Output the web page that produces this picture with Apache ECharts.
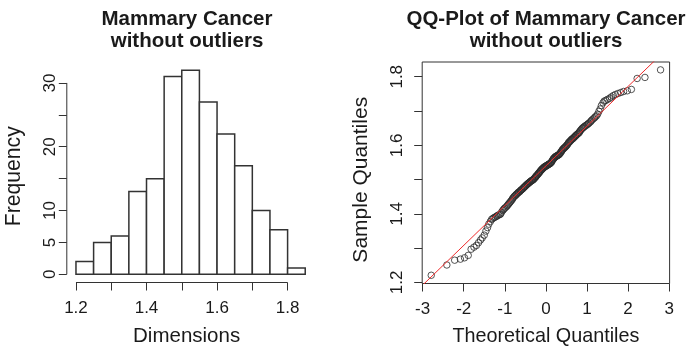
<!DOCTYPE html>
<html><head><meta charset="utf-8">
<script src="https://cdn.jsdelivr.net/npm/echarts@6/dist/echarts.min.js"></script>
<style>html,body{margin:0;padding:0;background:#fff}#c{width:688px;height:352px}</style>
</head><body><div id="c"></div>
<script>
// ---------- Histogram data ----------
const binEdges = [1.20, 1.25, 1.30, 1.35, 1.40, 1.45, 1.50, 1.55, 1.60, 1.65, 1.70, 1.75, 1.80, 1.85];
const histCounts = [2, 5, 6, 13, 15, 31, 32, 27, 22, 17, 10, 7, 1];
const histXTicks = [1.2, 1.3, 1.4, 1.5, 1.6, 1.7, 1.8];
const histXLabels = [1.2, 1.4, 1.6, 1.8];
const histYTicks = [0, 5, 10, 15, 20, 25, 30];
const histYLabels = [0, 5, 10, 20, 30];

// ---------- QQ plot data ----------
const theoreticalQ = [
 -2.79,-2.41,-2.22,-2.08,-1.98,-1.89,-1.82,-1.75,-1.69,-1.64,
 -1.59,-1.55,-1.50,-1.46,-1.42,-1.39,-1.35,-1.32,-1.29,-1.26,
 -1.23,-1.20,-1.18,-1.15,-1.12,-1.10,-1.08,-1.05,-1.03,-1.01,
 -0.99,-0.96,-0.94,-0.92,-0.90,-0.88,-0.86,-0.84,-0.82,-0.81,
 -0.79,-0.77,-0.75,-0.73,-0.72,-0.70,-0.68,-0.67,-0.65,-0.63,
 -0.62,-0.60,-0.59,-0.57,-0.55,-0.54,-0.52,-0.51,-0.49,-0.48,
 -0.46,-0.45,-0.43,-0.42,-0.40,-0.39,-0.38,-0.36,-0.35,-0.33,
 -0.32,-0.31,-0.29,-0.28,-0.26,-0.25,-0.24,-0.22,-0.21,-0.19,
 -0.18,-0.17,-0.15,-0.14,-0.13,-0.11,-0.10,-0.09,-0.07,-0.06,
 -0.05,-0.03,-0.02,-0.01,
 0.01,0.02,0.03,0.05,0.06,0.07,0.09,0.10,0.11,0.13,
 0.14,0.15,0.17,0.18,0.19,0.21,0.22,0.24,0.25,0.26,
 0.28,0.29,0.31,0.32,0.33,0.35,0.36,0.38,0.39,0.40,
 0.42,0.43,0.45,0.46,0.48,0.49,0.51,0.52,0.54,0.55,
 0.57,0.59,0.60,0.62,0.63,0.65,0.67,0.68,0.70,0.72,
 0.73,0.75,0.77,0.79,0.81,0.82,0.84,0.86,0.88,0.90,
 0.92,0.94,0.96,0.99,1.01,1.03,1.05,1.08,1.10,1.12,
 1.15,1.18,1.20,1.23,1.26,1.29,1.32,1.35,1.39,1.42,
 1.46,1.50,1.55,1.59,1.64,1.69,1.75,1.82,1.89,1.98,
 2.08,2.22,2.41,2.79
];
const sampleQ = [
 1.221,1.251,
 1.265,1.268,1.272,1.279,1.297,
 1.303,1.308,1.316,1.324,1.330,1.338,
 1.350,1.360,1.370,1.378,1.384,1.387,1.389,1.391,1.393,1.395,1.397,1.398,1.400,
 1.405,1.410,1.413,1.416,1.418,1.421,1.424,1.427,1.430,1.433,1.436,1.439,1.442,1.445,1.448,
 1.451,1.453,1.455,1.457,1.459,1.461,1.463,1.464,1.466,1.468,1.470,1.471,1.473,1.475,1.477,
 1.479,1.480,1.482,1.484,1.486,1.487,1.489,1.490,1.492,1.493,1.494,1.496,1.497,1.498,1.499,1.500,
 1.502,1.504,1.506,1.508,1.510,1.512,1.514,1.516,1.518,1.520,1.522,1.524,1.526,1.528,1.530,1.531,
 1.533,1.534,1.536,1.537,1.538,1.539,1.540,1.541,1.542,1.543,1.544,1.545,1.546,1.547,1.548,1.550,
 1.552,1.555,1.558,1.560,1.562,1.564,1.566,1.567,1.568,1.569,1.570,1.571,1.572,1.573,1.575,1.577,
 1.580,1.582,1.585,1.587,1.589,1.591,1.593,1.594,1.596,1.598,1.600,
 1.602,1.605,1.608,1.610,1.612,1.614,1.616,1.618,1.619,1.621,1.623,1.625,1.627,1.629,1.631,1.633,
 1.635,1.637,1.640,1.643,1.646,1.649,
 1.651,1.653,1.655,1.657,1.659,1.661,1.663,1.665,1.668,1.671,1.674,1.677,1.680,1.683,1.686,1.691,1.699,
 1.706,1.716,1.724,1.729,1.731,1.734,1.737,1.741,1.745,1.748,
 1.751,1.754,1.757,1.759,1.763,1.795,1.798,
 1.820
];
const qqLineX = [-3.2, 3.2];
const qqLineY = [1.169, 1.911];
const qqXTicks = [-3, -2, -1, 0, 1, 2, 3];
const qqYTicks = [1.2, 1.3, 1.4, 1.5, 1.6, 1.7, 1.8];
const qqYLabels = [1.2, 1.4, 1.6, 1.8];

// ---------- chart ----------
const FONT = "'Liberation Sans', Arial, Helvetica, sans-serif";
const INK = '#1a1a1a';
const LINE = '#333333';
const histXMin = 1.174, histXMax = 1.876, histYMin = -1.28, histYMax = 33.28;

const histData = histCounts.map((c, i) => [binEdges[i], binEdges[i + 1], c]);
const qqData = theoreticalQ.map((x, i) => [x, sampleQ[i]]);
const qqLine = qqLineX.map((x, i) => [x, qqLineY[i]]);

const chart = echarts.init(document.getElementById('c'), null, {renderer: 'canvas'});
const tickStyle = {color: LINE, width: 1};
const labelBase = {color: INK, fontFamily: FONT, fontSize: 17};
const nameBase = {color: INK, fontFamily: FONT, fontSize: 20.5};
const noLine = {show: false, onZero: false};

chart.setOption({
  animation: false,
  backgroundColor: '#ffffff',
  title: [
    {text: 'Mammary Cancer\nwithout outliers', left: 187, top: 9, padding: 0, textAlign: 'center',
     textStyle: {fontFamily: FONT, fontWeight: 'bold', fontSize: 20.5, lineHeight: 21.5, color: INK}},
    {text: 'QQ-Plot of Mammary Cancer\nwithout outliers', left: 546, top: 9, padding: 0, textAlign: 'center',
     textStyle: {fontFamily: FONT, fontWeight: 'bold', fontSize: 20.5, lineHeight: 21.5, color: INK}}
  ],
  grid: [
    {left: 66.8, top: 62, width: 247.6, height: 227, show: false},
    {left: 422.2, top: 62, width: 247.4, height: 227, show: true, borderColor: LINE, borderWidth: 1, backgroundColor: 'transparent'}
  ],
  xAxis: [
    {type: 'value', gridIndex: 0, min: histXMin, max: histXMax, position: 'bottom',
     axisLine: noLine, splitLine: {show: false},
     axisTick: {show: true, customValues: histXTicks, length: 8, lineStyle: tickStyle},
     axisLabel: Object.assign({customValues: histXLabels, margin: 17, formatter: v => v.toFixed(1)}, labelBase),
     name: 'Dimensions', nameLocation: 'middle', nameGap: 43.5,
     nameTextStyle: Object.assign({padding: [0, 8, 0, 0]}, nameBase)},
    {type: 'value', gridIndex: 1, min: -3.01, max: 3.01, position: 'bottom',
     axisLine: noLine, splitLine: {show: false},
     axisTick: {show: true, customValues: qqXTicks, length: 8, lineStyle: tickStyle},
     axisLabel: Object.assign({customValues: qqXTicks, margin: 17, formatter: v => String(Math.round(v))}, labelBase),
     name: 'Theoretical Quantiles', nameLocation: 'middle', nameGap: 43.5,
     nameTextStyle: Object.assign({}, nameBase, {fontSize: 19.8})}
  ],
  yAxis: [
    {type: 'value', gridIndex: 0, min: histYMin, max: histYMax, position: 'left',
     axisLine: noLine, splitLine: {show: false},
     axisTick: {show: true, customValues: histYTicks, length: 8, lineStyle: tickStyle},
     axisLabel: Object.assign({customValues: histYLabels, margin: 8, rotate: 90, formatter: v => String(Math.round(v))}, labelBase),
     name: 'Frequency', nameLocation: 'middle', nameGap: 42,
     nameTextStyle: Object.assign({}, nameBase, {fontSize: 21.2, padding: [0, 8, 0, 0]})},
    {type: 'value', gridIndex: 1, min: 1.197, max: 1.843, position: 'left',
     axisLine: noLine, splitLine: {show: false},
     axisTick: {show: true, customValues: qqYTicks, length: 8, lineStyle: tickStyle},
     axisLabel: Object.assign({customValues: qqYLabels, margin: 16, rotate: 90, formatter: v => v.toFixed(1)}, labelBase),
     name: 'Sample Quantiles', nameLocation: 'middle', nameGap: 50.5,
     nameTextStyle: Object.assign({}, nameBase, {fontSize: 21, padding: [0, 14, 0, 0]})}
  ],
  series: [
    {type: 'custom', xAxisIndex: 0, yAxisIndex: 0, data: histData, silent: true,
     encode: {x: [0, 1], y: 2},
     renderItem: function (params, api) {
       const p0 = api.coord([api.value(0), api.value(2)]);
       const p1 = api.coord([api.value(1), 0]);
       return {type: 'rect',
         shape: {x: p0[0], y: p0[1], width: p1[0] - p0[0], height: p1[1] - p0[1]},
         style: {fill: '#ffffff', stroke: LINE, lineWidth: 1.5}};
     }},
    {type: 'line', xAxisIndex: 0, yAxisIndex: 0, silent: true, clip: false, symbol: 'none',
     data: [[histXTicks[0], histYMin], [histXTicks[histXTicks.length - 1], histYMin]],
     lineStyle: {color: LINE, width: 1}},
    {type: 'line', xAxisIndex: 0, yAxisIndex: 0, silent: true, clip: false, symbol: 'none',
     data: [[histXMin, histYTicks[0]], [histXMin, histYTicks[histYTicks.length - 1]]],
     lineStyle: {color: LINE, width: 1}},
    {type: 'scatter', xAxisIndex: 1, yAxisIndex: 1, data: qqData, silent: true,
     symbol: 'circle', symbolSize: 6.5,
     itemStyle: {color: 'rgba(0,0,0,0)', borderColor: '#2a2a2a', borderWidth: 1}},
    {type: 'line', xAxisIndex: 1, yAxisIndex: 1, data: qqLine, silent: true, clip: true,
     symbol: 'none', z: 5, lineStyle: {color: '#ee2a2a', width: 1}}
  ]
});
</script></body></html>
